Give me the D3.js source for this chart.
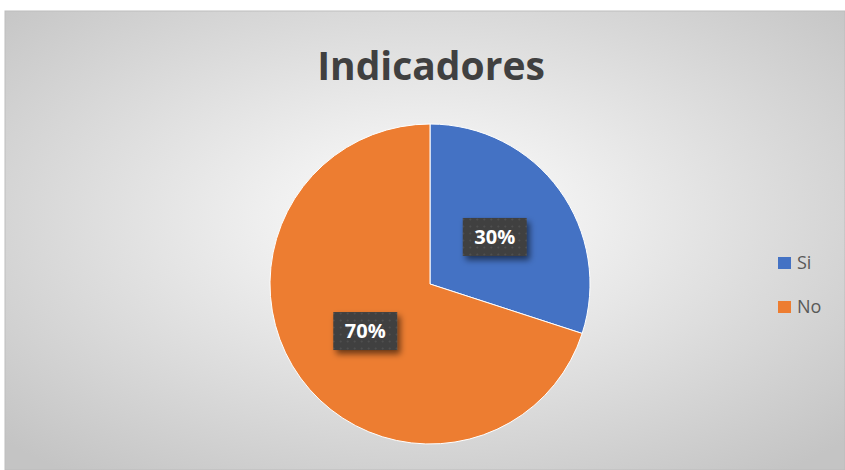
<!DOCTYPE html>
<html>
<head>
<meta charset="utf-8">
<script src="https://cdn.jsdelivr.net/npm/d3@7"></script>
<style>
  body { margin: 0; background: #fff; }
  svg { display: block; }
</style>
</head>
<body>
<div id="chart"></div>
<script>
// data
var categories = ["Si", "No"];
var values = [30, 70];
var labels = ["30%", "70%"];
var colors = ["#4472C4", "#ED7D31"];

var W = 845, H = 470;
var svg = d3.select("#chart").append("svg")
  .attr("width", W).attr("height", H);

var defs = svg.append("defs");

// radial background like the excel chart area
var bg = defs.append("radialGradient").attr("id", "bgGrad")
  .attr("cx", "50%").attr("cy", "45%").attr("r", "70%");
bg.append("stop").attr("offset", "0%").attr("stop-color", "#ffffff");
bg.append("stop").attr("offset", "100%").attr("stop-color", "#c4c4c4");

// dotted label box fill
var pat = defs.append("pattern").attr("id", "dots")
  .attr("width", 7).attr("height", 7).attr("patternUnits", "userSpaceOnUse");
pat.append("rect").attr("width", 7).attr("height", 7).attr("fill", "#3f3f3f");
pat.append("circle").attr("cx", 3.5).attr("cy", 3.5).attr("r", 1).attr("fill", "#545454");

var shadow = defs.append("filter").attr("id", "shadow")
  .attr("x", "-30%").attr("y", "-30%").attr("width", "170%").attr("height", "170%");
shadow.append("feDropShadow").attr("dx", 3).attr("dy", 4).attr("stdDeviation", 3)
  .attr("flood-color", "#000").attr("flood-opacity", 0.55);

svg.append("rect")
  .attr("x", 5).attr("y", 11).attr("width", W - 5).attr("height", H - 11)
  .attr("fill", "url(#bgGrad)")
  .attr("stroke", "#bdbdbd").attr("stroke-width", 1);

// title
svg.append("text")
  .attr("x", 431).attr("y", 80)
  .attr("text-anchor", "middle")
  .attr("font-family", "'Open Sans', sans-serif")
  .attr("font-weight", "bold")
  .attr("font-size", 39)
  .attr("fill", "#404040")
  .text("Indicadores");

// pie
var cx = 430, cy = 284, r = 160;
var pie = d3.pie().sort(null).value(function(d) { return d; });
var arcs = pie(values);
var arc = d3.arc().innerRadius(0).outerRadius(r);
var labelArc = d3.arc().innerRadius(r * 0.5).outerRadius(r * 0.5);

var g = svg.append("g").attr("transform", "translate(" + cx + "," + cy + ")");

g.selectAll("path")
  .data(arcs)
  .enter().append("path")
  .attr("d", arc)
  .attr("fill", function(d, i) { return colors[i]; })
  .attr("stroke", "#fff")
  .attr("stroke-width", 1);

var lab = g.selectAll("g.lab")
  .data(arcs)
  .enter().append("g")
  .attr("class", "lab")
  .attr("transform", function(d) {
    var c = labelArc.centroid(d);
    return "translate(" + c[0] + "," + c[1] + ")";
  });

lab.append("rect")
  .attr("x", -32).attr("y", -19).attr("width", 64).attr("height", 38)
  .attr("fill", "url(#dots)")
  .attr("filter", "url(#shadow)");

lab.append("text")
  .attr("text-anchor", "middle")
  .attr("dy", "0.35em")
  .attr("font-family", "'Open Sans', sans-serif")
  .attr("font-weight", "bold")
  .attr("font-size", 20)
  .attr("fill", "#fff")
  .text(function(d, i) { return labels[i]; });

// legend
var legend = svg.append("g").attr("transform", "translate(778,257)");
var item = legend.selectAll("g")
  .data(categories)
  .enter().append("g")
  .attr("transform", function(d, i) { return "translate(0," + (i * 44) + ")"; });

item.append("rect")
  .attr("width", 13).attr("height", 12)
  .attr("fill", function(d, i) { return colors[i]; });

item.append("text")
  .attr("x", 19).attr("y", 6).attr("dy", "0.35em")
  .attr("font-family", "'Open Sans', sans-serif")
  .attr("font-size", 18)
  .attr("fill", "#595959")
  .text(function(d) { return d; });
</script>
</body>
</html>
